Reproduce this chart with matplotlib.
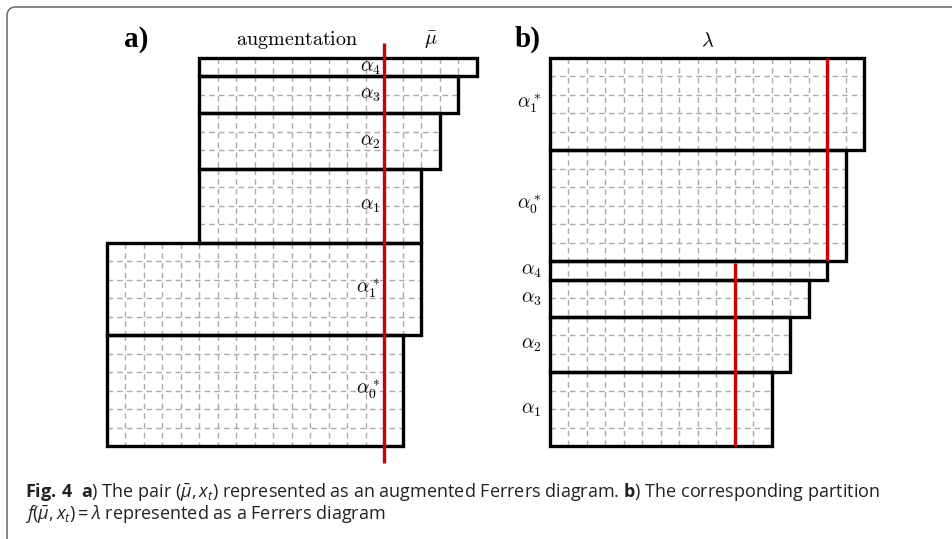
import matplotlib
matplotlib.use("Agg")
import matplotlib.pyplot as plt
from matplotlib.patches import Rectangle, Arc

plt.rcParams['mathtext.fontset'] = 'cm'

# blocks of the Ferrers diagrams (in cells)
alpha_labels = [r'$\alpha_4$', r'$\alpha_3$', r'$\alpha_2$', r'$\alpha_1$']
alpha_widths = [15, 14, 13, 12]
alpha_heights = [1, 2, 3, 4]
star_labels = [r'$\alpha_1^*$', r'$\alpha_0^*$']
star_widths = [17, 16]
star_heights = [5, 6]
aug_cols = 5      # augmentation columns in panel a
mu_col = 15       # column of the red cut

W, H = 953, 539
cell = 18.48
fig = plt.figure(figsize=(W / 100, H / 100), dpi=100)

# background axes in pixel coords for the frame and caption
bg = fig.add_axes([0, 0, 1, 1])
bg.set_xlim(0, W)
bg.set_ylim(H, 0)
bg.axis('off')
fc = '#666666'
bg.plot([7, 7], [H, 15], color=fc, lw=1.1, solid_capstyle='butt')
bg.plot([15, W], [7, 7], color=fc, lw=1.1, solid_capstyle='butt')
bg.add_patch(Arc((15, 15), 16, 16, theta1=180, theta2=270, color=fc, lw=1.1))


def panel_axes(x0_px, y0_px):
    # axes in cell units, origin of the diagram at (x0_px, y0_px)
    xl, xr, yt, yb = -6, 24, -3, 23
    left = x0_px + xl * cell
    top = y0_px + yt * cell
    ax = fig.add_axes([left / W, 1 - (top + (yb - yt) * cell) / H,
                       (xr - xl) * cell / W, (yb - yt) * cell / H])
    ax.set_xlim(xl, xr)
    ax.set_ylim(yb, yt)
    ax.axis('off')
    return ax


def block(ax, x, y, w, h):
    gk = dict(color='#aaaaaa', lw=1.0, linestyles=(0, (4, 3)), zorder=1)
    if w > 1:
        ax.vlines(range(x + 1, x + w), y, y + h, **gk)
    if h > 1:
        ax.hlines(range(y + 1, y + h), x, x + w, **gk)
    ax.add_patch(Rectangle((x, y), w, h, fill=False, ec='black', lw=2.4, zorder=3))


lab = dict(fontsize=14, va='center', zorder=4)
head = dict(fontsize=14.5, ha='center', va='center')
panel_lab = dict(fontsize=21, family='Liberation Serif', weight='bold',
                 ha='center', va='center')

# ---- panel a ----
axa = panel_axes(107, 58)
y = 0
rows_a = list(zip(alpha_labels, alpha_widths, alpha_heights, [aug_cols] * 4)) + \
         list(zip(star_labels, star_widths, star_heights, [0] * 2))
for name, w, h, x in rows_a:
    block(axa, x, y, w, h)
    axa.text(mu_col - 0.2, y + h / 2, name, ha='right', **lab)
    y += h
axa.vlines(mu_col, -0.8, y + 0.9, color='#cc0000', lw=2.4, zorder=5)
axa.text(1.6, -1.0, 'a)', **panel_lab)
axa.text(10.3, -0.95, r'$\mathrm{augmentation}$', **head)
axa.text(17.5, -0.95, r'$\bar{\mu}$', **head)

# ---- panel b ----
axb = panel_axes(550, 58)
y = 0
for name, w, h in zip(star_labels, star_widths, star_heights):
    block(axb, 0, y, w, h)
    axb.text(-0.45, y + h / 2, name, ha='right', **lab)
    y += h
star_end = y
for name, w, h in zip(alpha_labels, alpha_widths, alpha_heights):
    block(axb, 0, y, w, h)
    axb.text(-0.45, y + h / 2, name, ha='right', **lab)
    y += h
axb.vlines(mu_col, 0, star_end, color='#cc0000', lw=2.4, zorder=5)
axb.vlines(mu_col - aug_cols, star_end + 0.1, y, color='#cc0000', lw=2.4, zorder=5)
axb.text(-1.2, -1.0, 'b)', **panel_lab)
axb.text(8.5, -0.95, r'$\lambda$', **head)

# ---- caption ----
plt.rcParams['mathtext.rm'] = 'Open Sans'
plt.rcParams['mathtext.it'] = 'Open Sans:italic'
plt.rcParams['mathtext.bf'] = 'Open Sans:bold'
cap = dict(fontsize=13, family='Open Sans', color='#222222', va='center',
           math_fontfamily='custom')
line1 = (r'$\mathbf{Fig.\,4}$  $\mathbf{a}$) The pair ($\bar{\mu}, x_t$) represented as an '
         r'augmented Ferrers diagram. $\mathbf{b}$) The corresponding partition')
line2 = r'$f(\bar{\mu}, x_t) = \lambda$ represented as a Ferrers diagram'
bg.text(25, 492, line1, **cap)
bg.text(25, 514, line2, **cap)

fig.savefig('out.png', dpi=100)
